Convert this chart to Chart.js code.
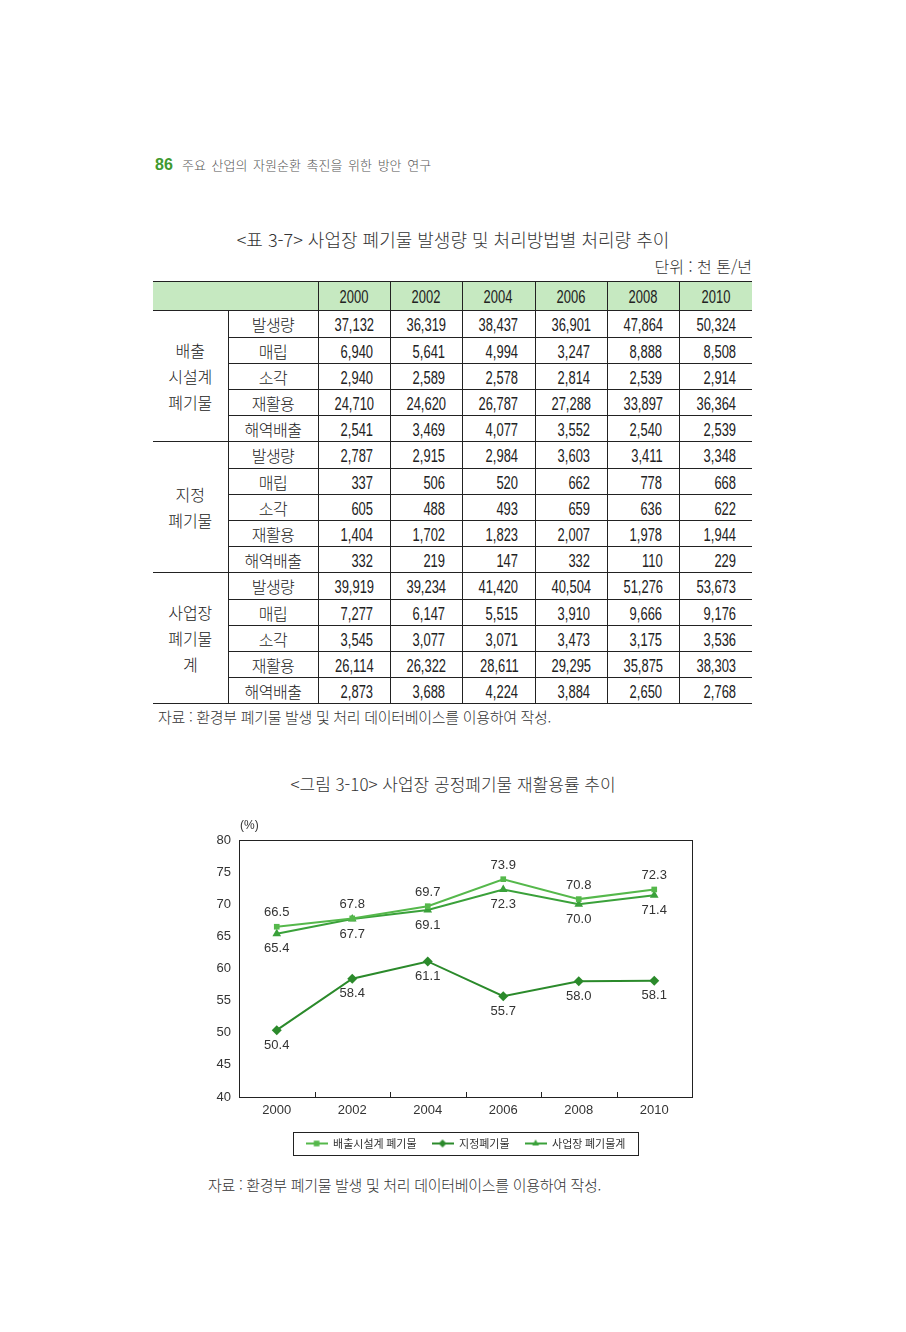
<!DOCTYPE html>
<html lang="ko">
<head>
<meta charset="utf-8">
<script src="https://cdn.jsdelivr.net/npm/chart.js@4.4.1/dist/chart.umd.min.js"></script>
<style>
  html, body { margin: 0; padding: 0; background: #fff; }
  body { width: 906px; height: 1332px; position: relative; overflow: hidden;
         font-family: "Noto Sans CJK KR", "Noto Sans", sans-serif; color: #222; }
  .txt { position: absolute; white-space: nowrap; line-height: 20px; font-weight: 300; }
  #tbl { position: absolute; left: 153px; top: 281px; width: 599px;
         border-collapse: collapse; table-layout: fixed; }
  #tbl th, #tbl td { padding: 0; border: 0; font-weight: 300; line-height: 18px; overflow: hidden; }
  #tbl thead th { height: 28px; background: #c6e9c1; border-top: 1.5px solid #222;
                  border-bottom: 1px solid #222; text-align: center; font-size: 18px; }
  #tbl thead th.yr { border-left: 1px solid #222; }
  #tbl tbody tr { height: 26px; }
  #tbl tbody tr.first { height: 27px; }
  #tbl td.grp { text-align: center; font-size: 16px; line-height: 26px;
                border-right: 1px solid #222; border-bottom: 1px solid #222; }
  #tbl td.sub { text-align: center; font-size: 16px; border-bottom: 1px solid #222; letter-spacing: -0.5px; }
  #tbl td.num { text-align: right; padding-right: 16px; font-size: 18px;
                border-left: 1px solid #222; border-bottom: 1px solid #222; }
  .nar { display: inline-block; font-family: "Liberation Sans", Arial, sans-serif; font-weight: normal;
         transform: scaleX(0.72); transform-origin: right center; }
  th .nar { transform-origin: center center; }
  #chartBox { position: absolute; left: 200px; top: 812px; width: 510px; height: 349px; }
</style>
</head>
<body>
<div class="txt" style="left:155px;top:155px;font-size:16px;font-weight:bold;color:#3f9a2f;font-family:'Liberation Sans',sans-serif;">86</div>
<div class="txt" style="left:182px;top:155px;font-size:13px;color:#555;word-spacing:2px;">주요 산업의 자원순환 촉진을 위한 방안 연구</div>
<div class="txt" style="left:0;width:906px;text-align:center;top:229px;font-size:18px;color:#333;">&lt;표 3-7&gt; 사업장 폐기물 발생량 및 처리방법별 처리량 추이</div>
<div class="txt" style="right:154px;top:256px;font-size:16px;color:#333;">단위 : 천 톤/년</div>
<table id="tbl">
  <colgroup><col style="width:75px"><col style="width:90px"><col style="width:72px"><col style="width:72px"><col style="width:73px"><col style="width:72px"><col style="width:72px"><col style="width:73px"></colgroup>
  <thead><tr id="hdr"><th colspan="2"></th></tr></thead>
  <tbody id="body"></tbody>
</table>
<div class="txt" style="left:158px;top:707px;font-size:15px;color:#333;letter-spacing:-0.3px;">자료 : 환경부 폐기물 발생 및 처리 데이터베이스를 이용하여 작성.</div>
<div class="txt" style="left:0;width:906px;text-align:center;top:774px;font-size:17px;color:#333;">&lt;그림 3-10&gt; 사업장 공정폐기물 재활용률 추이</div>
<div id="chartBox"><canvas id="chart"></canvas></div>
<div class="txt" style="left:208px;top:1175px;font-size:15px;color:#333;letter-spacing:-0.3px;">자료 : 환경부 폐기물 발생 및 처리 데이터베이스를 이용하여 작성.</div>

<script>
const years = ['2000', '2002', '2004', '2006', '2008', '2010'];
const groupNames = [['배출', '시설계', '폐기물'], ['지정', '폐기물'], ['사업장', '폐기물', '계']];
const itemNames = ['발생량', '매립', '소각', '재활용', '해역배출'];

const facilityVals = [
  [37132, 36319, 38437, 36901, 47864, 50324],
  [6940, 5641, 4994, 3247, 8888, 8508],
  [2940, 2589, 2578, 2814, 2539, 2914],
  [24710, 24620, 26787, 27288, 33897, 36364],
  [2541, 3469, 4077, 3552, 2540, 2539],
];
const designatedVals = [
  [2787, 2915, 2984, 3603, 3411, 3348],
  [337, 506, 520, 662, 778, 668],
  [605, 488, 493, 659, 636, 622],
  [1404, 1702, 1823, 2007, 1978, 1944],
  [332, 219, 147, 332, 110, 229],
];
const totalVals = [
  [39919, 39234, 41420, 40504, 51276, 53673],
  [7277, 6147, 5515, 3910, 9666, 9176],
  [3545, 3077, 3071, 3473, 3175, 3536],
  [26114, 26322, 28611, 29295, 35875, 38303],
  [2873, 3688, 4224, 3884, 2650, 2768],
];

const seriesNames = ['배출시설계 폐기물', '지정폐기물', '사업장 폐기물계'];
const rateFacility = [66.5, 67.8, 69.7, 73.9, 70.8, 72.3];
const rateDesignated = [50.4, 58.4, 61.1, 55.7, 58.0, 58.1];
const rateTotal = [65.4, 67.7, 69.1, 72.3, 70.0, 71.4];

// 표
const hdr = document.getElementById('hdr');
years.forEach(y => {
  const th = document.createElement('th');
  th.className = 'yr';
  th.innerHTML = `<span class="nar">${y}</span>`;
  hdr.appendChild(th);
});
const tbody = document.getElementById('body');
[facilityVals, designatedVals, totalVals].forEach((vals, g) => {
  vals.forEach((row, i) => {
    const tr = document.createElement('tr');
    if (i === 0) {
      tr.className = 'first';
      const td = document.createElement('td');
      td.className = 'grp';
      td.rowSpan = itemNames.length;
      td.innerHTML = groupNames[g].join('<br>');
      tr.appendChild(td);
    }
    const sub = document.createElement('td');
    sub.className = 'sub';
    sub.textContent = itemNames[i];
    tr.appendChild(sub);
    row.forEach(v => {
      const td = document.createElement('td');
      td.className = 'num';
      td.innerHTML = `<span class="nar">${v.toLocaleString('en-US')}</span>`;
      tr.appendChild(td);
    });
    tbody.appendChild(tr);
  });
});

// 차트
const colors = ['#55b84b', '#2b8a2b', '#3aa13a'];
const markers = ['rect', 'rectRot', 'triangle'];
const radii = [4, 5, 5];

function legendIcon(color, style) {
  const c = document.createElement('canvas');
  c.width = 22; c.height = 10;
  const x = c.getContext('2d');
  x.strokeStyle = color; x.fillStyle = color; x.lineWidth = 2;
  x.beginPath(); x.moveTo(0, 5); x.lineTo(22, 5); x.stroke();
  Chart.helpers.drawPoint(x, { pointStyle: style, radius: 4, rotation: 0, borderWidth: 0 }, 11, 5);
  return c;
}

const valueLabels = {
  id: 'valueLabels',
  afterDatasetsDraw(chart) {
    const { ctx } = chart;
    ctx.save();
    ctx.font = '13px "Liberation Sans", Arial, sans-serif';
    ctx.fillStyle = '#333';
    ctx.textAlign = 'center';
    ctx.textBaseline = 'middle';
    chart.data.datasets.forEach((ds, di) => {
      const above = di === 0;
      chart.getDatasetMeta(di).data.forEach((pt, i) => {
        ctx.fillText(ds.data[i].toFixed(1), pt.x, pt.y + (above ? -14 : 15));
      });
    });
    ctx.restore();
  },
};

const frame = {
  id: 'frame',
  afterDraw(chart) {
    const { ctx, chartArea: a, scales: { x } } = chart;
    ctx.save();
    ctx.strokeStyle = '#222';
    ctx.lineWidth = 1;
    ctx.strokeRect(Math.round(a.left) + 0.5, Math.round(a.top) + 0.5,
                   Math.round(a.right - a.left), Math.round(a.bottom - a.top));
    // 안쪽으로 향한 x축 눈금
    ctx.beginPath();
    for (let i = 1; i < years.length; i++) {
      const px = Math.round((x.getPixelForValue(i - 1) + x.getPixelForValue(i)) / 2) + 0.5;
      ctx.moveTo(px, a.bottom); ctx.lineTo(px, a.bottom - 5);
    }
    ctx.stroke();
    ctx.font = '12px "Liberation Sans", Arial, sans-serif';
    ctx.fillStyle = '#333';
    ctx.textBaseline = 'middle';
    ctx.fillText('(%)', a.left + 1, a.top - 14);
    // 범례 테두리
    const hb = chart.legend.legendHitBoxes;
    if (hb && hb.length) {
      const l = Math.min(...hb.map(h => h.left)) - 13;
      const r = Math.max(...hb.map(h => h.left + h.width)) + 12;
      const t = hb[0].top - 6;
      const b = hb[0].top + hb[0].height + 6;
      ctx.strokeRect(Math.round(l) + 0.5, Math.round(t) + 0.5, Math.round(r - l), Math.round(b - t));
    }
    ctx.restore();
  },
};

new Chart(document.getElementById('chart'), {
  type: 'line',
  data: {
    labels: years,
    datasets: [rateFacility, rateDesignated, rateTotal].map((d, i) => ({
      label: seriesNames[i],
      data: d,
      borderColor: colors[i],
      backgroundColor: colors[i],
      borderWidth: 2,
      pointStyle: markers[i],
      pointRadius: radii[i],
      pointBorderWidth: 0,
      tension: 0,
    })),
  },
  options: {
    responsive: true,
    maintainAspectRatio: false,
    animation: false,
    layout: { padding: { top: 28, right: 18, bottom: 2, left: 0 } },
    plugins: {
      tooltip: { enabled: false },
      legend: {
        position: 'bottom',
        fullSize: false,
        labels: {
          usePointStyle: true,
          pointStyleWidth: 22,
          padding: 15,
          color: '#333',
          font: { size: 11, family: '"Noto Sans CJK KR", sans-serif' },
          generateLabels: chart => chart.data.datasets.map((ds, i) => ({
            text: ds.label,
            pointStyle: legendIcon(colors[i], markers[i]),
            fillStyle: colors[i],
            strokeStyle: colors[i],
            lineWidth: 0,
            fontColor: '#333',
            datasetIndex: i,
          })),
        },
      },
    },
    scales: {
      x: {
        offset: true,
        grid: { display: false, drawTicks: false },
        border: { display: false },
        ticks: { padding: 6, color: '#333', font: { size: 13, family: '"Liberation Sans", Arial, sans-serif' } },
        afterFit: s => { s.height = 26; },
      },
      y: {
        min: 40, max: 80,
        grid: { display: false, drawTicks: false },
        border: { display: false },
        ticks: { stepSize: 5, padding: 8, color: '#333', font: { size: 13, family: '"Liberation Sans", Arial, sans-serif' } },
        afterFit: s => { s.width = 39; },
      },
    },
  },
  plugins: [valueLabels, frame],
});
</script>
</body>
</html>
